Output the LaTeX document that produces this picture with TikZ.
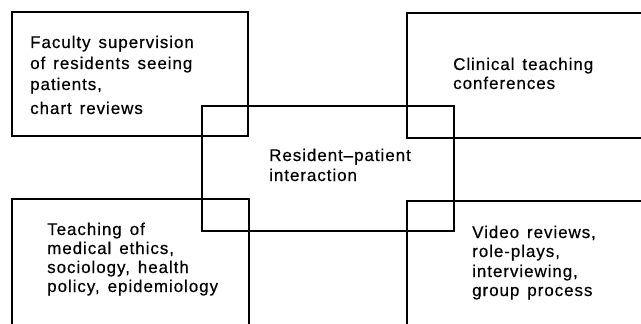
\documentclass[tikz,border=0pt]{standalone}
\usepackage{fontspec}
\setmainfont{Liberation Sans}[LetterSpace=5.5,WordSpace=1.4,FakeBold=0.4]
\begin{document}
\begin{tikzpicture}[x=1pt,y=-1pt,
  boxline/.style={line width=1.6pt,line join=miter},
  txt/.style={anchor=base west,inner sep=0pt,font=\fontsize{17}{20}\selectfont}]
\useasboundingbox[fill=white] (0,0) rectangle (641,324);
% boxes
\draw[boxline] (12,12) rectangle (248,136);
\draw[boxline] (641,13) -- (407,13) -- (407,138) -- (641,138);
\draw[boxline] (12,324) -- (12,199) -- (249,199) -- (249,324);
\draw[boxline] (641,201) -- (407,201) -- (407,324);
\draw[boxline] (202,106) rectangle (454,231);
% top-left text
\node[txt] (tl1) at (30,48) {Faculty supervision};
\node[txt] (tl2) at (30,69) {of residents seeing};
\node[txt] (tl3) at (30,90) {patients,};
\node[txt] (tl4) at (30,114) {chart reviews};
% top-right text
\node[txt] (tr1) at (453,70) {Clinical teaching};
\node[txt] (tr2) at (453,89) {conferences};
% centre text
\node[txt] (c1) at (269,161) {Resident–patient};
\node[txt] (c2) at (269,181) {interaction};
% bottom-left text
\node[txt] (bl1) at (47,235) {Teaching of};
\node[txt] (bl2) at (47,254) {medical ethics,};
\node[txt] (bl3) at (47,273) {sociology, health};
\node[txt] (bl4) at (47,292) {policy, epidemiology};
% bottom-right text
\node[txt] (br1) at (472,238) {Video reviews,};
\node[txt] (br2) at (472,257) {role-plays,};
\node[txt] (br3) at (472,277) {interviewing,};
\node[txt] (br4) at (472,296) {group process};
\end{tikzpicture}
\end{document}
